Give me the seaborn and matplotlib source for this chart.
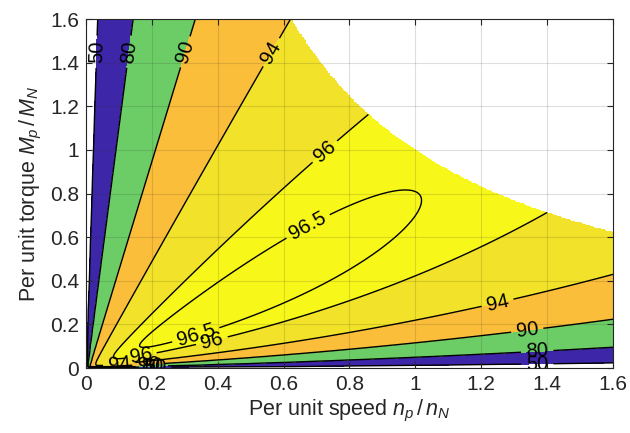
import numpy as np
import matplotlib
matplotlib.use('Agg')
import matplotlib.pyplot as plt
import seaborn as sns

sns.set_style('ticks')
plt.rcParams['font.family'] = ['Liberation Sans', 'DejaVu Sans']
plt.rcParams['mathtext.fontset'] = 'custom'
plt.rcParams['mathtext.rm'] = 'Liberation Sans'
plt.rcParams['mathtext.it'] = 'Liberation Sans:italic'

# per unit ranges and power limit
speed_range = [0.0, 1.6]
torque_range = [0.0, 1.6]
power_limit = 1.0

# loss model coefficients (per unit)
loss_copper = 0.0214     # ~ M^2
loss_iron = 0.0079       # ~ n^2
loss_iron_hi = 0.0042    # ~ n^3
loss_switch = 0.0010     # ~ M
loss_converter = 0.0030  # ~ n*M

eff_levels = [50, 80, 90, 94, 96, 96.5, 100]
fill_colors = ['#3e26a8', '#6ccd66', '#fbbe3a', '#f2e229', '#f8f71a', '#f8f71a']
tick_vals = [0, 0.2, 0.4, 0.6, 0.8, 1, 1.2, 1.4, 1.6]
tick_text = ['0', '0.2', '0.4', '0.6', '0.8', '1', '1.2', '1.4', '1.6']

# where the inline labels sit
label_pos = {
    50: [(0.03, 1.45), (1.37, 0.025), (0.21, 0.004)],
    80: [(0.13, 1.45), (1.37, 0.07), (0.20, 0.008)],
    90: [(0.30, 1.45), (1.34, 0.17), (0.19, 0.012)],
    94: [(0.56, 1.45), (1.245, 0.33), (0.10, 0.035)],
    96: [(0.715, 1.01), (0.38, 0.14), (0.17, 0.025)],
    96.5: [(0.66, 0.69), (0.33, 0.17)],
}

n = np.linspace(speed_range[0], speed_range[1], 241)
m = np.linspace(torque_range[0], torque_range[1], 241)
N, M = np.meshgrid(n, m)
P = N * M
L = (loss_copper * M**2 + loss_iron * N**2 + loss_iron_hi * N**3
     + loss_switch * M + loss_converter * N * M)
with np.errstate(invalid='ignore', divide='ignore'):
    eta = np.where(P + L > 0, 100 * P / (P + L), 0.0)
eta[P > power_limit] = np.nan

fig, ax = plt.subplots(figsize=(6.3, 4.33), dpi=100)
fig.subplots_adjust(left=0.1365, right=0.973, bottom=0.150, top=0.956)

pal = sns.color_palette(fill_colors)
ax.contourf(N, M, eta, levels=eff_levels, colors=pal, zorder=1)

# one line set per level so each gets its own label spots
for lev, pos in label_pos.items():
    cs = ax.contour(N, M, eta, levels=[lev], colors='black',
                    linewidths=1.0, zorder=2)
    ax.clabel(cs, manual=pos, inline=True, inline_spacing=5,
              fontsize=14.5, fmt=lambda v: f'{v:g}')

ax.set_xlim(speed_range)
ax.set_ylim(torque_range)
ax.set_xticks(tick_vals)
ax.set_yticks(tick_vals)
ax.set_xticklabels(tick_text)
ax.set_yticklabels(tick_text)
ax.set_axisbelow(False)
ax.grid(True, color='#262626', alpha=0.15, linewidth=0.8)
ax.tick_params(direction='in', top=True, right=True, length=4, pad=5,
               labelsize=15, colors='#262626', labelcolor='#262626')
for s in ax.spines.values():
    s.set_color('#262626')
    s.set_linewidth(0.8)

ax.set_xlabel('Per unit speed $n_p\\,/\\,n_N$', fontsize=15.5, color='#262626',
              labelpad=3)
ax.set_ylabel('Per unit torque $M_p\\,/\\,M_N$', fontsize=15.5, color='#262626',
              labelpad=4)

fig.savefig('out.png', dpi=100)
